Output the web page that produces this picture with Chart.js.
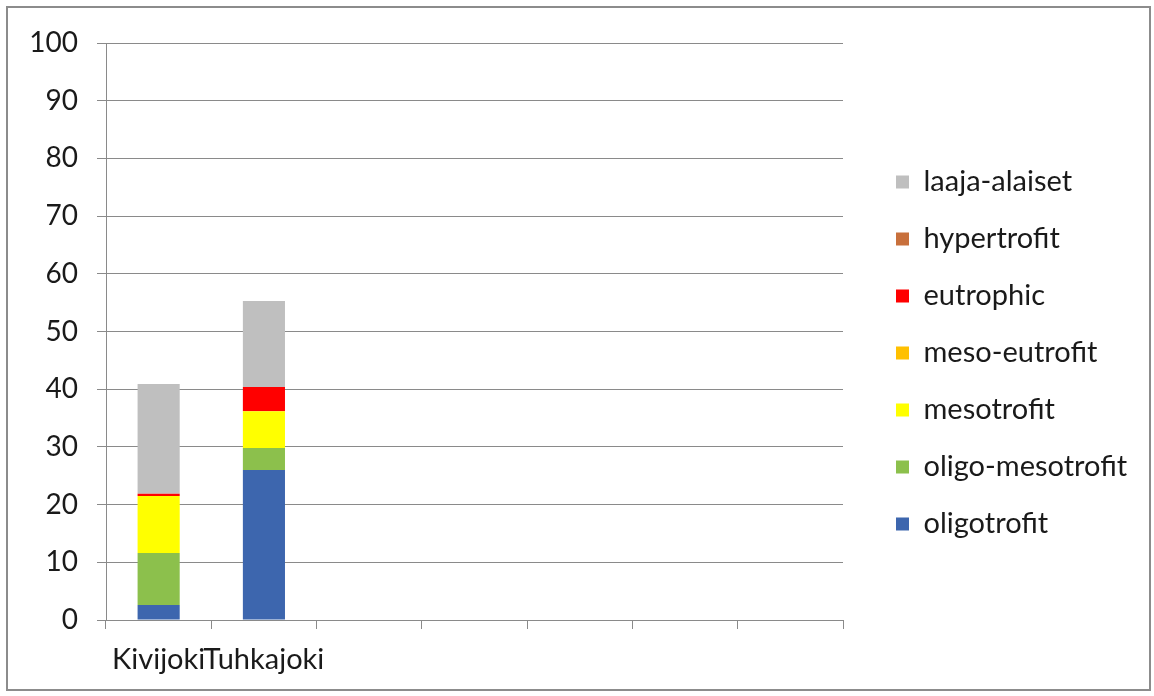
<!DOCTYPE html>
<html>
<head>
<meta charset="utf-8">
<script src="https://cdn.jsdelivr.net/npm/chart.js@4/dist/chart.umd.min.js"></script>
<style>
  body { margin: 0; background: #fff; }
  #wrap { position: relative; width: 1154px; height: 696px; }
  #frame { position: absolute; left: 6px; top: 6px; width: 1141px; height: 681px; border: 2px solid #8c8c8c; pointer-events: none; }
</style>
</head>
<body>
<div id="wrap">
  <canvas id="kasviGrafiikka" width="1154" height="696"></canvas>
  <div id="frame"></div>
</div>
<script>
var joet = ["Kivijoki", "Tuhkajoki", "", "", "", "", ""];
var oligotrofit = [2.6, 26.0];
var oligoMesotrofit = [9.0, 3.8];
var mesotrofit = [9.9, 6.4];
var mesoEutrofit = [0, 0];
var eutrophic = [0.4, 4.2];
var hypertrofit = [0, 0];
var laajaAlaiset = [19.0, 14.9];
var yTicks = [0, 10, 20, 30, 40, 50, 60, 70, 80, 90, 100];

var fontti = "Lato, 'Open Sans', sans-serif";
var viiva = "#8a8a8a";
var legendaFontti = 29;

// legenda omalle paikalleen oikeaan reunaan
var legendaPaikka = {
    id: "legendaPaikka",
    afterInit: function (chart) {
        var lg = chart.legend;
        var fit = lg.fit;
        lg.fit = function () {
            fit.call(this);
            this.width = 311;
        };
    },
    afterLayout: function (chart) {
        var lg = chart.legend;
        var pad = lg.options.labels.padding;
        var w = lg.right - lg.left;
        var h = lg.bottom - lg.top;
        lg.left = 896 - pad;
        lg.right = lg.left + w;
        lg.top = 182 - legendaFontti / 2 - pad;
        lg.bottom = lg.top + h;
    }
};

var ctx = document.getElementById("kasviGrafiikka").getContext("2d");
new Chart(ctx, {
    type: "bar",
    data: {
        labels: joet,
        datasets: [
            { label: "oligotrofit", data: oligotrofit, backgroundColor: "#3d66ae" },
            { label: "oligo-mesotrofit", data: oligoMesotrofit, backgroundColor: "#8cc04c" },
            { label: "mesotrofit", data: mesotrofit, backgroundColor: "#ffff00" },
            { label: "meso-eutrofit", data: mesoEutrofit, backgroundColor: "#ffc000" },
            { label: "eutrophic", data: eutrophic, backgroundColor: "#ff0000" },
            { label: "hypertrofit", data: hypertrofit, backgroundColor: "#c8703c" },
            { label: "laaja-alaiset", data: laajaAlaiset, backgroundColor: "#bfbfbf" }
        ]
    },
    plugins: [legendaPaikka],
    options: {
        responsive: false,
        animation: false,
        layout: { padding: { top: 43, left: 0, right: 0, bottom: 0 } },
        datasets: { bar: { barPercentage: 0.4, categoryPercentage: 1 } },
        plugins: {
            tooltip: { enabled: false },
            legend: {
                position: "right",
                align: "start",
                reverse: true,
                labels: {
                    boxWidth: 13,
                    boxHeight: 13,
                    padding: 57 - legendaFontti,
                    color: "#1a1a1a",
                    font: { family: fontti, size: legendaFontti }
                }
            }
        },
        scales: {
            x: {
                stacked: true,
                offset: true,
                afterFit: function (s) { s.height = 76; },
                border: { display: true, color: viiva, width: 1 },
                grid: { offset: true, drawOnChartArea: false, drawTicks: true, tickLength: 9, color: viiva },
                ticks: {
                    autoSkip: false, maxRotation: 0, minRotation: 0, padding: 13,
                    color: "#1a1a1a", font: { family: fontti, size: 29 }
                }
            },
            y: {
                stacked: true,
                min: 0,
                max: 100,
                afterFit: function (s) { s.width = 106; },
                afterBuildTicks: function (s) {
                    s.ticks = yTicks.map(function (v) { return { value: v }; });
                },
                border: { display: true, color: viiva, width: 1 },
                grid: { color: viiva, tickLength: 9 },
                ticks: {
                    padding: 19,
                    color: "#1a1a1a",
                    font: { family: fontti, size: 28 }
                }
            }
        }
    }
});
</script>
</body>
</html>
